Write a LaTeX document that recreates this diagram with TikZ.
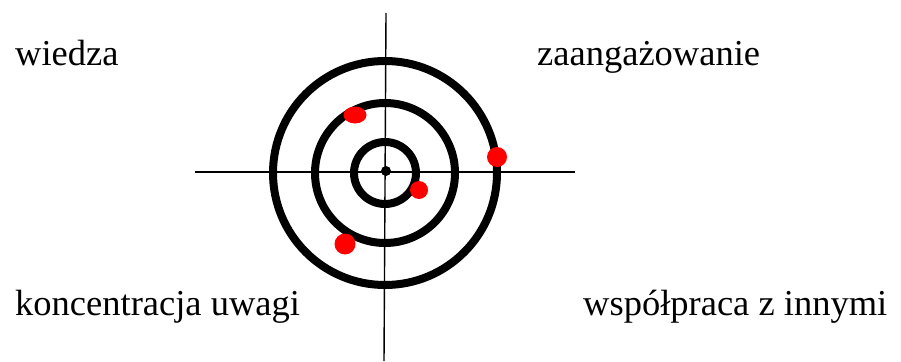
\documentclass[tikz,border=0pt]{standalone}
\usepackage{fontspec}
\newfontfamily\tms{Liberation Serif}
\begin{document}
\begin{tikzpicture}[x=1pt,y=-1pt,
  ring/.style={draw=black,line width=8pt},
  axis/.style={draw=black,line width=1.4pt},
  hit/.style={fill=red},
  lbl/.style={anchor=base west,inner sep=0pt,font=\tms\fontsize{36.5}{40}\selectfont}]
\useasboundingbox[fill=white] (0,0) rectangle (901,361);
\coordinate (c) at (385,173);
\coordinate (top) at (386,13);
\coordinate (bot) at (384,361);
\coordinate (lft) at (195,172);
\coordinate (rgt) at (575,172);
\draw[axis] (top) -- (bot);
\draw[axis] (lft) -- (rgt);
\draw[ring] (c) circle[radius=112];
\draw[ring] (c) circle[radius=70];
\draw[ring] (c) circle[radius=31];
\fill (386,171) circle[radius=5];
\fill[hit] (355,115) ellipse[x radius=11.5,y radius=8.5];
\fill[hit] (497,157) circle[radius=10];
\fill[hit] (419,190) circle[radius=9];
\fill[hit] (345,244) circle[radius=10.5];
\node[lbl] (w) at (15,65) {wiedza};
\node[lbl] (z) at (537,65) {zaangażowanie};
\node[lbl] (k) at (15,315) {koncentracja uwagi};
\node[lbl] (p) at (583,315) {współpraca z innymi};
\end{tikzpicture}
\end{document}
